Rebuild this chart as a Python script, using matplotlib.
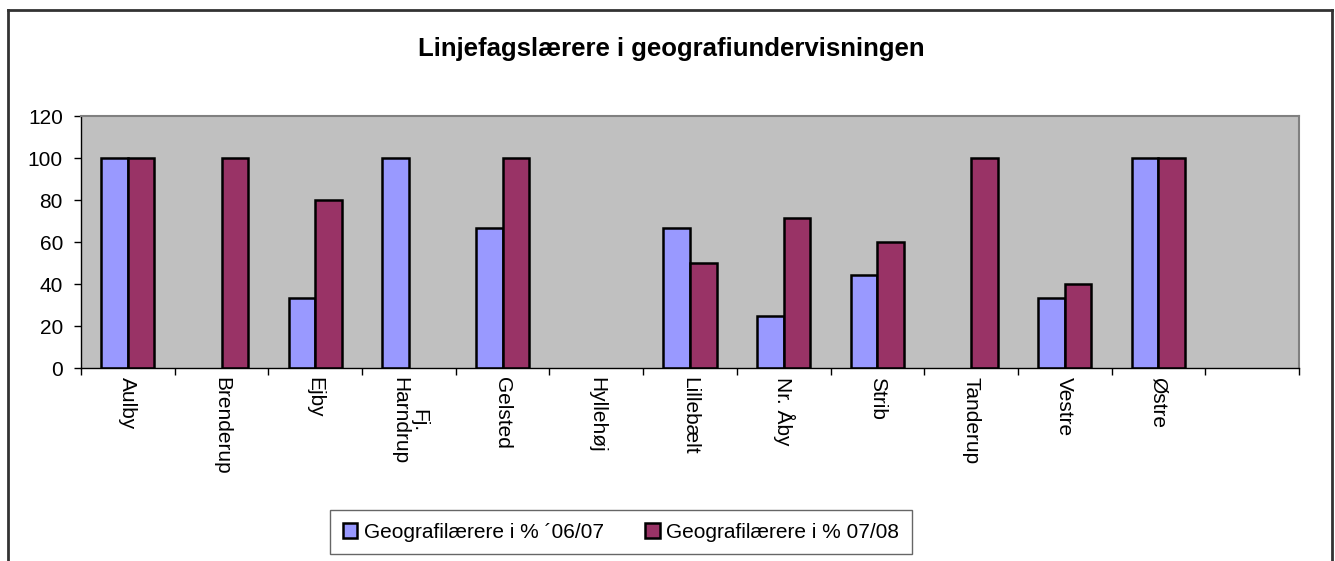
import numpy as np
import matplotlib
matplotlib.use("Agg")
import matplotlib.pyplot as plt
from matplotlib.lines import Line2D

plt.rcParams['font.family'] = ['Liberation Sans', 'DejaVu Sans']

# data
skoler = ["Aulby", "Brenderup", "Ejby", "Fj.\nHarndrup", "Gelsted", "Hyllehøj",
          "Lillebælt", "Nr. Åby", "Strib", "Tanderup", "Vestre", "Østre"]
pct_0607 = [100, np.nan, 33.3, 100, 66.7, np.nan, 66.7, 25, 44.4, np.nan, 33.3, 100]
pct_0708 = [100, 100, 80, np.nan, 100, np.nan, 50, 71.4, 60, 100, 40, 100]
serie_navne = ["Geografilærere i % ´06/07", "Geografilærere i % 07/08"]
y_ticks = [0, 20, 40, 60, 80, 100, 120]

blaa = "#9999FF"
roed = "#993366"

fig = plt.figure(figsize=(13.35, 5.61), dpi=100)
ax = fig.add_axes([81 / 1335, 1 - 368 / 561, 1218 / 1335, 252 / 561])
ax.set_facecolor("#C0C0C0")

x = np.arange(len(skoler))
b = 0.283
v1 = np.array(pct_0607, dtype=float)
v2 = np.array(pct_0708, dtype=float)
m1 = ~np.isnan(v1)
m2 = ~np.isnan(v2)
ax.bar(x[m1] - b / 2, v1[m1], b, color=blaa, edgecolor="black", linewidth=1.8, label=serie_navne[0])
ax.bar(x[m2] + b / 2, v2[m2], b, color=roed, edgecolor="black", linewidth=1.8, label=serie_navne[1])

ax.set_xlim(-0.5, len(skoler) + 0.5)
ax.set_ylim(0, 120)
ax.set_yticks(y_ticks)
ax.tick_params(axis="y", labelsize=15, length=5, width=1, direction="out", pad=8)

# ticks mellem kategorierne, labels i midten
ax.set_xticks(np.arange(-0.5, len(skoler) + 1, 1))
ax.set_xticklabels([])
ax.tick_params(axis="x", length=5, width=1, direction="out")
for i, navn in enumerate(skoler):
    ax.text(i, -0.035, navn, transform=ax.get_xaxis_transform(), rotation=270,
            ha="center", va="top", fontsize=15, multialignment="center",
            linespacing=1.0)

for s in ["top", "right"]:
    ax.spines[s].set_color("#808080")
    ax.spines[s].set_linewidth(1.5)
for s in ["left", "bottom"]:
    ax.spines[s].set_color("black")
    ax.spines[s].set_linewidth(1)

fig.text(0.5025, 1 - 49 / 561, "Linjefagslærere i geografiundervisningen",
         ha="center", va="center", fontsize=18.5, fontweight="bold")

leg = fig.legend(loc="center", bbox_to_anchor=(621 / 1335, 1 - 532 / 561), ncol=2,
                 fontsize=15, frameon=True, fancybox=False, handlelength=0.7,
                 handleheight=0.7, handletextpad=0.3, columnspacing=2.0,
                 borderpad=0.6, borderaxespad=0)
leg.get_frame().set_edgecolor("#404040")
leg.get_frame().set_linewidth(1)
for h in leg.legend_handles:
    h.set_linewidth(1.8)

# ramme om hele diagrammet
kant = dict(color="#333333", linewidth=2, transform=fig.transFigure)
fig.add_artist(Line2D([8 / 1335, 1332 / 1335], [1 - 10 / 561, 1 - 10 / 561], **kant))
fig.add_artist(Line2D([8 / 1335, 8 / 1335], [1 - 10 / 561, 0], **kant))
fig.add_artist(Line2D([1332 / 1335, 1332 / 1335], [1 - 10 / 561, 0], **kant))

fig.savefig("out.png", dpi=100)
